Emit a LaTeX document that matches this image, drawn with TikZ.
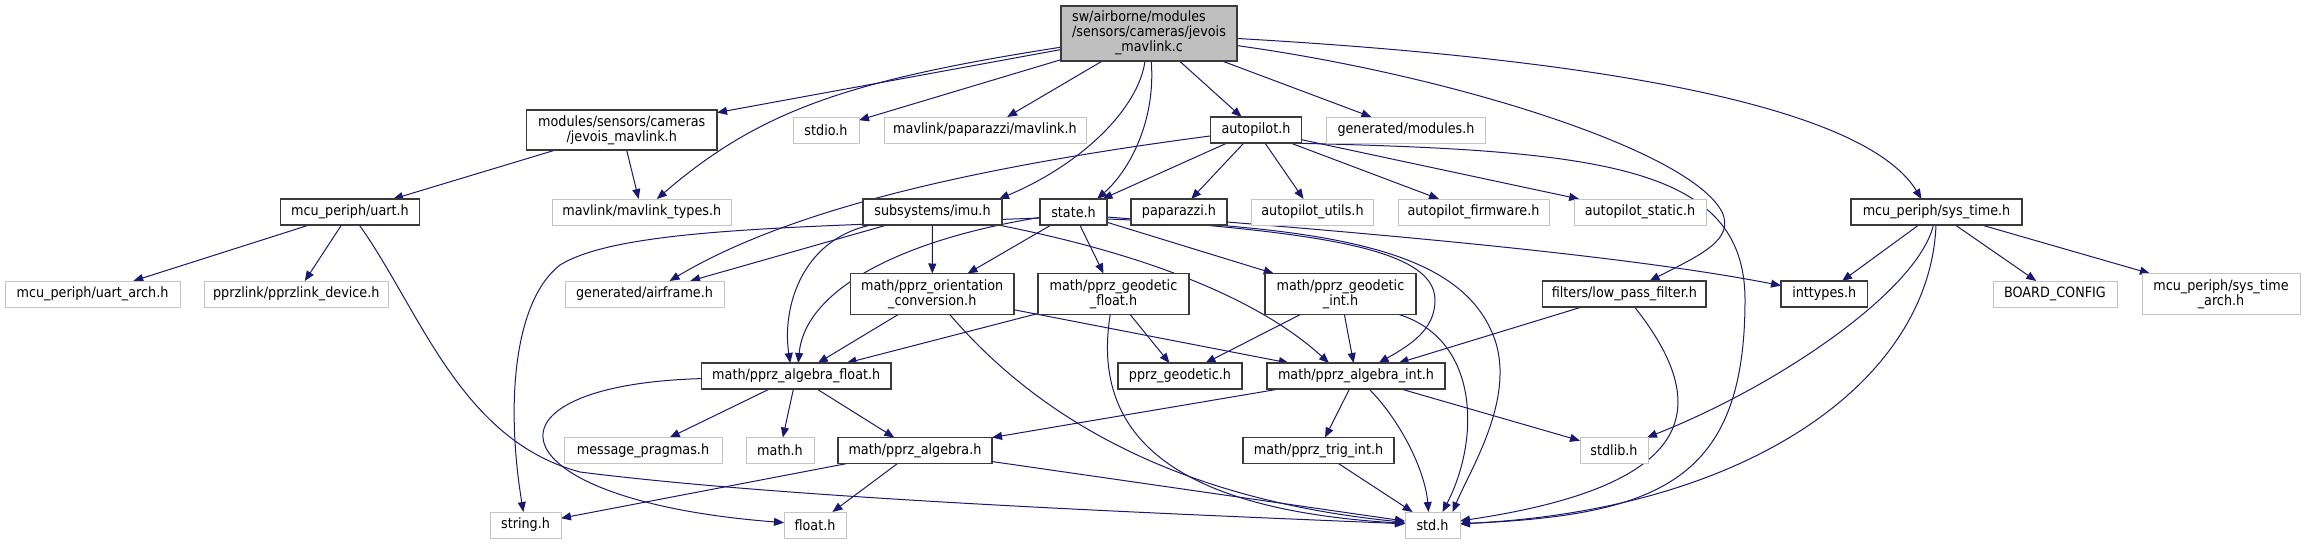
\documentclass[tikz,border=0pt]{standalone}
\usepackage{fontspec}
\newfontfamily\dvsans{DejaVu Sans Condensed}
\usetikzlibrary{arrows.meta}
\definecolor{edgeblue}{HTML}{191970}
\definecolor{greyfill}{HTML}{BFBFBF}
\definecolor{greyline}{HTML}{C4C4C4}
\definecolor{docline}{HTML}{3A3A3A}
\pgfdeclarelayer{bg}
\pgfdeclarelayer{edges}
\pgfsetlayers{bg,edges,main}
\tikzset{
  basebox/.style={rectangle, inner sep=0pt, outer sep=0pt, align=center, text=black,
    font=\dvsans\fontsize{14.2}{15}\selectfont},
  sz/.style 2 args={minimum width=#1pt, minimum height=#2pt},
  docbox/.style={basebox, draw=docline, line width=1.2pt, fill=white},
  extbox/.style={basebox, draw=greyline, line width=1pt, fill=white},
  rootbox/.style={basebox, draw=docline, line width=1.2pt, fill=greyfill},
  edge/.style={draw=edgeblue, line width=1pt, -{Triangle[length=10pt,width=8pt]}},
}
\begin{document}
\begin{tikzpicture}[x=1pt,y=-1pt]
\begin{pgfonlayer}{bg}
\fill[white] (0,0) rectangle (2305,544);
\end{pgfonlayer}
\useasboundingbox (0,0) rectangle (2305,544);
% row 0
\node[rootbox, sz={176}{55}] (main) at (1149,33.5) {\begin{tabular}{@{}l@{}}sw/airborne/modules\\/sensors/cameras/jevois\\\multicolumn{1}{@{}c@{}}{\_mavlink.c}\end{tabular}};
% row 1
\node[docbox, sz={190.5}{40}] (jmh) at (621.75,130) {modules/sensors/cameras\\/jevois\_mavlink.h};
\node[extbox, sz={66}{26}] (stdio) at (826,130) {stdio.h};
\node[extbox, sz={202}{26}] (mavlink) at (985,130) {mavlink/paparazzi/mavlink.h};
\node[docbox, sz={90.5}{26}] (autopilot) at (1256,130) {autopilot.h};
\node[extbox, sz={158.5}{26}] (modules) at (1406,130) {generated/modules.h};
% row 2
\node[docbox, sz={139}{26}] (uart) at (350,212) {mcu\_periph/uart.h};
\node[extbox, sz={178.4}{26}] (mtypes) at (641.8,212) {mavlink/mavlink\_types.h};
\node[docbox, sz={139}{26}] (imu) at (932.5,212) {subsystems/imu.h};
\node[docbox, sz={67}{26}] (state) at (1073.5,212) {state.h};
\node[docbox, sz={96}{26}] (paparazzi) at (1179,212) {paparazzi.h};
\node[extbox, sz={122}{26}] (autils) at (1312.5,212) {autopilot\_utils.h};
\node[extbox, sz={151}{26}] (afirm) at (1473.5,212) {autopilot\_firmware.h};
\node[extbox, sz={132}{26}] (astatic) at (1640,212) {autopilot\_static.h};
\node[docbox, sz={171}{26}] (systime) at (1936.5,212) {mcu\_periph/sys\_time.h};
% row 3
\node[extbox, sz={175}{26}] (uartarch) at (92.5,294) {mcu\_periph/uart\_arch.h};
\node[extbox, sz={183.4}{26}] (pprzlink) at (296.3,294) {pprzlink/pprzlink\_device.h};
\node[extbox, sz={159}{26}] (airframe) at (644.5,294) {generated/airframe.h};
\node[docbox, sz={163.5}{41}] (orient) at (932.25,294) {math/pprz\_orientation\\\_conversion.h};
\node[docbox, sz={151}{41}] (geofloat) at (1113.5,294) {math/pprz\_geodetic\\\_float.h};
\node[docbox, sz={151}{41}] (geoint) at (1340.5,294) {math/pprz\_geodetic\\\_int.h};
\node[docbox, sz={163.4}{26}] (lowpass) at (1624.3,294) {filters/low\_pass\_filter.h};
\node[docbox, sz={86.5}{26}] (inttypes) at (1824.25,294) {inttypes.h};
\node[extbox, sz={124}{26}] (board) at (2055,294) {BOARD\_CONFIG};
\node[extbox, sz={158}{41}] (starch) at (2221,294) {mcu\_periph/sys\_time\\\_arch.h};
% row 4
\node[docbox, sz={189.5}{26}] (afloat) at (796.25,376) {math/pprz\_algebra\_float.h};
\node[docbox, sz={124}{26}] (geodetic) at (1180,376) {pprz\_geodetic.h};
\node[docbox, sz={178}{26}] (aint) at (1356,376) {math/pprz\_algebra\_int.h};
% row 5
\node[extbox, sz={158}{26}] (msgprag) at (643,450.5) {message\_pragmas.h};
\node[extbox, sz={68}{26}] (math) at (780,450.5) {math.h};
\node[docbox, sz={154}{26}] (alg) at (915,450.5) {math/pprz\_algebra.h};
\node[docbox, sz={151}{26}] (trig) at (1318.5,450.5) {math/pprz\_trig\_int.h};
\node[extbox, sz={68}{26}] (stdlib) at (1614,450.5) {stdlib.h};
% row 6
\node[extbox, sz={71}{26}] (string) at (525.5,525) {string.h};
\node[extbox, sz={62}{26}] (float) at (815,525) {float.h};
\node[extbox, sz={55}{26}] (std) at (1432.5,525) {std.h};

\begin{pgfonlayer}{edges}
% from main
\draw[edge] (main) -- (jmh);
\draw[edge] (main) .. controls (850,80) and (760,110) .. (mtypes);
\draw[edge] (main) -- (stdio);
\draw[edge] (main) -- (mavlink);
\draw[edge] (main) .. controls (1138,110) and (1080,165) .. ([xshift=-3pt]imu.north east);
\draw[edge] (main) .. controls (1156,120) and (1130,170) .. ([xshift=-10pt]state.north east);
\draw[edge] (main) -- (autopilot);
\draw[edge] (main) -- (modules);
\draw[edge] (main) .. controls (1450,75) and (1690,150) .. (1722,212) .. controls (1735,240) and (1700,255) .. (lowpass);
\draw[edge] (main) .. controls (1650,62) and (1870,115) .. ([xshift=-15pt]systime.north);
% jevois_mavlink.h
\draw[edge] (jmh) -- (uart);
\draw[edge] (jmh) -- (mtypes);
% uart
\draw[edge] (uart) -- (uartarch);
\draw[edge] (uart) -- (pprzlink);
\draw[edge] (uart) .. controls (420,310) and (460,440) .. (580,472) .. controls (800,500) and (1200,515) .. (std);
% autopilot
\draw[edge] (autopilot) .. controls (950,170) and (780,215) .. ([xshift=25pt]airframe.north);
\draw[edge] (autopilot) -- (state);
\draw[edge] (autopilot) -- (paparazzi);
\draw[edge] (autopilot) -- (autils);
\draw[edge] (autopilot) -- (afirm);
\draw[edge] (autopilot) -- (astatic);
\draw[edge] ([xshift=-15pt]autopilot.south east) .. controls (1600,150) and (1745,165) .. (1745,300) .. controls (1745,480) and (1660,515) .. (std);
% imu
\draw[edge] (imu) -- (airframe);
\draw[edge] (imu) .. controls (800,240) and (782,310) .. ([xshift=-6pt]afloat.north);
\draw[edge] (imu) -- (orient);
\draw[edge] (imu) .. controls (1150,255) and (1260,300) .. ([xshift=-27pt]aint.north);
% state
\draw[edge] ([yshift=-6pt]state.west) .. controls (800,227) and (620,228) .. (560,265) .. controls (515,300) and (505,400) .. (string);
\draw[edge] (state) -- (orient);
\draw[edge] (state) .. controls (900,240) and (805,290) .. ([xshift=2pt]afloat.north);
\draw[edge] (state) -- (geofloat);
\draw[edge] (state) -- (geoint);
\draw[edge] ([yshift=-5pt]state.east) .. controls (1300,232) and (1435,245) .. (1435,300) .. controls (1435,330) and (1410,345) .. (aint);
\draw[edge] ([yshift=-7pt]state.east) .. controls (1350,228) and (1465,255) .. (1495,340) .. controls (1515,400) and (1470,470) .. ([xshift=20pt]std.north);
% orientation conversion
\draw[edge] (orient) -- (afloat);
\draw[edge] (orient) -- (aint);
\draw[edge] (orient) .. controls (1040,420) and (1180,500) .. (std);
% geodetic float
\draw[edge] (geofloat) -- (afloat);
\draw[edge] (geofloat) -- (geodetic);
\draw[edge] (geofloat) .. controls (1090,440) and (1180,510) .. (std);
% geodetic int
\draw[edge] (geoint) -- (geodetic);
\draw[edge] (geoint) -- (aint);
\draw[edge] ([xshift=-17pt]geoint.south east) .. controls (1480,340) and (1480,440) .. ([xshift=10pt]std.north);
% low pass filter
\draw[edge] (lowpass) -- (aint);
\draw[edge] (lowpass) .. controls (1712,405) and (1702,485) .. (std);
% sys_time
\draw[edge] (systime) -- (inttypes);
\draw[edge] (systime) .. controls (1918,290) and (1780,385) .. (stdlib);
\draw[edge] (systime) .. controls (1930,380) and (1750,510) .. (std);
\draw[edge] (systime) -- (board);
\draw[edge] (systime) -- (starch);
% paparazzi
\draw[edge] ([yshift=-10pt]paparazzi.east) .. controls (1450,240) and (1650,260) .. (inttypes);
% algebra float
\draw[edge] (afloat) -- (msgprag);
\draw[edge] (afloat) -- (math);
\draw[edge] (afloat) -- (alg);
\draw[edge] (afloat) .. controls (470,385) and (490,500) .. (float);
% algebra int
\draw[edge] (aint) -- (alg);
\draw[edge] (aint) -- (trig);
\draw[edge] (aint) .. controls (1400,420) and (1425,470) .. ([xshift=-4pt]std.north);
\draw[edge] (aint) -- (stdlib);
% algebra
\draw[edge] (alg) -- (string);
\draw[edge] (alg) -- (float);
\draw[edge] (alg) -- (std);
% trig
\draw[edge] (trig) -- (std);
\end{pgfonlayer}
\end{tikzpicture}
\end{document}
